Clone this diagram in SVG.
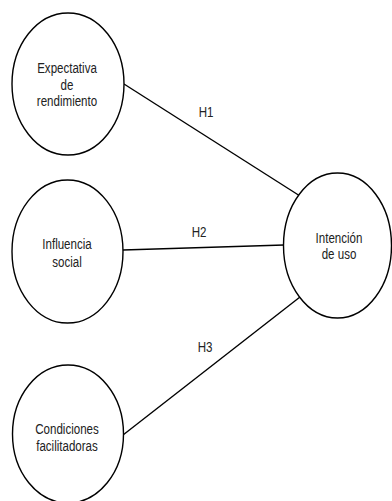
<svg xmlns="http://www.w3.org/2000/svg" width="392" height="501" viewBox="0 0 392 501">
<style>
.node ellipse{fill:#fff;stroke:#000;stroke-width:1.4}
.lbl{font-family:"Liberation Sans",Arial,sans-serif;font-size:15px;fill:#222;text-anchor:middle}
.edges line{stroke:#000;stroke-width:1.4}
</style>
<rect width="392" height="501" fill="#fff"/>
<g class="edges" id="connectors">
<line x1="124" y1="84" x2="300" y2="196"/>
<line x1="123" y1="250" x2="284" y2="245"/>
<line x1="123" y1="435" x2="300" y2="297"/>
<g transform="translate(206,116.5) scale(0.77,1)"><text class="lbl" x="0" y="0">H1</text></g>
<g transform="translate(199,237) scale(0.77,1)"><text class="lbl" x="0" y="0">H2</text></g>
<g transform="translate(205,352) scale(0.77,1)"><text class="lbl" x="0" y="0">H3</text></g>
</g>
<g class="node" id="expectativa">
<ellipse cx="68" cy="84" rx="56" ry="71"/>
<g transform="translate(67,0) scale(0.77,1)"><text class="lbl" x="0" y="73.5">Expectativa</text><text class="lbl" x="0" y="90">de</text><text class="lbl" x="0" y="106">rendimiento</text></g>
</g>
<g class="node" id="influencia">
<ellipse cx="67.5" cy="251.5" rx="55.5" ry="71.5"/>
<g transform="translate(67,0) scale(0.77,1)"><text class="lbl" x="0" y="249.5">Influencia</text><text class="lbl" x="0" y="267">social</text></g>
</g>
<g class="node" id="condiciones">
<ellipse cx="68" cy="434" rx="55.5" ry="69"/>
<g transform="translate(67,0) scale(0.77,1)"><text class="lbl" x="0" y="434.5">Condiciones</text><text class="lbl" x="0" y="451.5">facilitadoras</text></g>
</g>
<g class="node" id="intencion">
<ellipse cx="337.5" cy="245.5" rx="54" ry="72.5"/>
<g transform="translate(339,0) scale(0.77,1)"><text class="lbl" x="0" y="243">Intención</text><text class="lbl" x="0" y="259.5">de uso</text></g>
</g>
</svg>
